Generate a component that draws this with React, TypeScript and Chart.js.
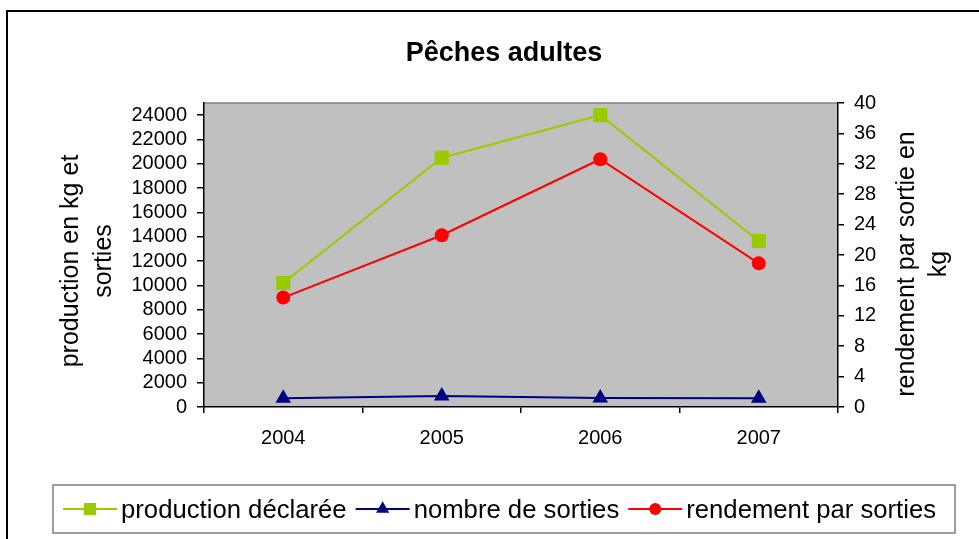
import React, { useEffect, useRef } from 'react';
import { Chart, registerables } from 'chart.js';
import { drawPoint } from 'chart.js/helpers';

Chart.register(...registerables);

const TITLE = 'Pêches adultes';
const YEARS = ['2004', '2005', '2006', '2007'];
const PRODUCTION = [10200, 20500, 24000, 13650];
const SORTIES = [710, 910, 735, 720];
const RENDEMENT = [14.4, 22.6, 32.6, 18.9];
const SERIES_LABELS = ['production déclarée', 'nombre de sorties', 'rendement par sorties'];
const LEFT_TITLE = ['production en kg et', 'sorties'];
const RIGHT_TITLE = ['rendement par sortie en', 'kg'];
const LEFT_MAX = 25000;
const LEFT_TICKS = [0, 2000, 4000, 6000, 8000, 10000, 12000, 14000, 16000, 18000, 20000, 22000, 24000];
const RIGHT_MAX = 40;
const RIGHT_TICKS = [0, 4, 8, 12, 16, 20, 24, 28, 32, 36, 40];

const FONT = '"Liberation Sans", Arial, sans-serif';

const decor = {
  id: 'decor',
  beforeDraw(chart: any) {
    const { ctx, chartArea: a } = chart;
    ctx.save();
    ctx.fillStyle = '#ffffff';
    ctx.fillRect(0, 0, chart.width, chart.height);
    ctx.strokeStyle = '#000000';
    ctx.lineWidth = 2;
    ctx.strokeRect(7, 11, chart.width + 40, chart.height + 40);
    ctx.fillStyle = '#C0C0C0';
    ctx.fillRect(a.left, a.top, a.right - a.left, a.bottom - a.top);
    ctx.strokeStyle = '#808080';
    ctx.lineWidth = 1.5;
    ctx.beginPath();
    ctx.moveTo(a.left, a.top);
    ctx.lineTo(a.right, a.top);
    ctx.stroke();
    ctx.restore();
  },
  afterDraw(chart: any) {
    const { ctx } = chart;
    ctx.save();
    // Title
    ctx.fillStyle = '#000';
    ctx.font = `bold 27px ${FONT}`;
    ctx.textAlign = 'center';
    ctx.textBaseline = 'alphabetic';
    ctx.fillText(TITLE, 504, 61);

    // Axis titles (both rotated counter-clockwise)
    ctx.font = `25px ${FONT}`;
    const drawRot = (lines: string[], cx: number, cy: number, lh: number) => {
      ctx.save();
      ctx.translate(cx, cy);
      ctx.rotate(-Math.PI / 2);
      lines.forEach((l, i) => ctx.fillText(l, 0, i * lh));
      ctx.restore();
    };
    drawRot(LEFT_TITLE, 78, 261, 33);
    drawRot(RIGHT_TITLE, 914, 264, 32);

    // Legend
    ctx.strokeStyle = '#808080';
    ctx.lineWidth = 1.5;
    ctx.strokeRect(53, 485, 902, 48);
    ctx.font = `25.7px ${FONT}`;
    ctx.textAlign = 'left';
    let x = 63;
    const y = 509;
    chart.data.datasets.forEach((ds: any) => {
      ctx.strokeStyle = ds.borderColor;
      ctx.lineWidth = 2;
      ctx.beginPath();
      ctx.moveTo(x, y);
      ctx.lineTo(x + 54, y);
      ctx.stroke();
      ctx.fillStyle = ds.backgroundColor;
      ctx.strokeStyle = ds.borderColor;
      drawPoint(ctx, { pointStyle: ds.pointStyle, radius: ds.pointRadius * 0.85, rotation: 0, borderWidth: 0 } as any, x + 27, y);
      ctx.fillStyle = '#000';
      ctx.fillText(ds.label, x + 58, 518);
      x += 58 + ctx.measureText(ds.label).width + 9;
    });
    ctx.restore();
  },
};

export default function App() {
  const ref = useRef<HTMLCanvasElement>(null);
  useEffect(() => {
    if (!ref.current) return;
    const tickFont = { family: FONT, size: 20 };
    const plain = (v: any) => String(v);
    const chart = new Chart(ref.current, {
      type: 'line',
      data: {
        labels: YEARS,
        datasets: [
          {
            label: SERIES_LABELS[0],
            data: PRODUCTION,
            yAxisID: 'y',
            borderColor: '#99CC00',
            backgroundColor: '#99CC00',
            borderWidth: 2,
            pointStyle: 'rect',
            pointRadius: 10,
            pointBorderWidth: 0,
            tension: 0,
          },
          {
            label: SERIES_LABELS[1],
            data: SORTIES,
            yAxisID: 'y',
            borderColor: '#000080',
            backgroundColor: '#000080',
            borderWidth: 2,
            pointStyle: 'triangle',
            pointRadius: 9,
            pointBorderWidth: 0,
            tension: 0,
          },
          {
            label: SERIES_LABELS[2],
            data: RENDEMENT,
            yAxisID: 'y1',
            borderColor: '#FF0000',
            backgroundColor: '#FF0000',
            borderWidth: 2,
            pointStyle: 'circle',
            pointRadius: 7,
            pointBorderWidth: 0,
            tension: 0,
          },
        ],
      },
      options: {
        responsive: false,
        animation: false,
        layout: { padding: { left: 0, right: 0, top: 103, bottom: 92 } },
        plugins: { legend: { display: false }, title: { display: false }, tooltip: { enabled: false } },
        scales: {
          x: {
            offset: true,
            grid: { offset: true, drawOnChartArea: false, tickLength: 6, color: '#000', lineWidth: 1.5 },
            border: { display: true, color: '#000', width: 1.5 },
            ticks: { font: tickFont, color: '#000', padding: 13, maxRotation: 0 },
            afterFit: (s: any) => { s.height = 40; },
          },
          y: {
            position: 'left',
            min: 0,
            max: LEFT_MAX,
            ticks: { font: tickFont, color: '#000', padding: 10, callback: plain, autoSkip: false },
            afterBuildTicks: (s: any) => { s.ticks = LEFT_TICKS.map((v) => ({ value: v })); },
            grid: { drawOnChartArea: false, tickLength: 7, color: '#000', lineWidth: 1.5 },
            border: { display: true, color: '#000', width: 1.5 },
            afterFit: (s: any) => { s.width = 204; },
          },
          y1: {
            position: 'right',
            min: 0,
            max: RIGHT_MAX,
            ticks: { font: tickFont, color: '#000', padding: 10, callback: plain, autoSkip: false },
            afterBuildTicks: (s: any) => { s.ticks = RIGHT_TICKS.map((v) => ({ value: v })); },
            grid: { drawOnChartArea: false, tickLength: 6, color: '#000', lineWidth: 1.5 },
            border: { display: true, color: '#000', width: 1.5 },
            afterFit: (s: any) => { s.width = 141; },
          },
        },
      } as any,
      plugins: [decor],
    });
    return () => chart.destroy();
  }, []);
  return (
    <div style={{ position: 'absolute', left: 0, top: 0, width: 979, height: 539 }}>
      <canvas ref={ref} width={979} height={539} style={{ display: 'block' }} />
    </div>
  );
}
